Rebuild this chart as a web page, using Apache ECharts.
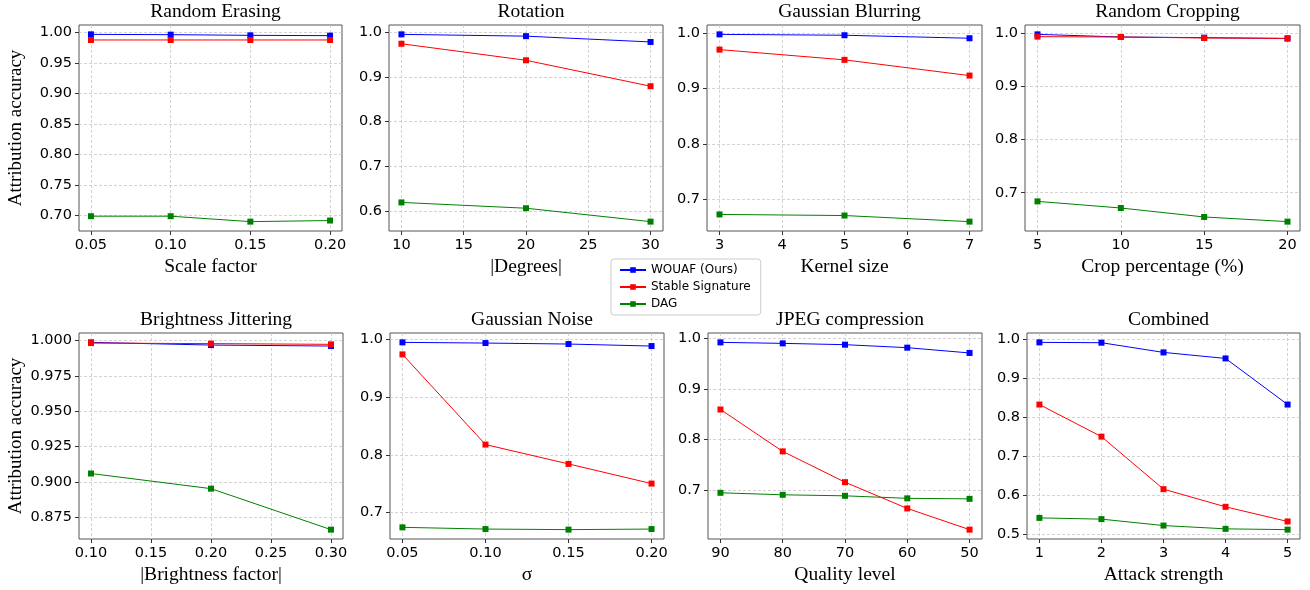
<!DOCTYPE html>
<html>
<head>
<meta charset="utf-8">
<script src="https://cdn.jsdelivr.net/npm/echarts@6/dist/echarts.min.js"></script>
<style>
  html, body { margin: 0; padding: 0; background: #fff; }
  #chart { width: 1310px; height: 590px; }
</style>
</head>
<body>
<div id="chart"></div>
<script>
const seriesNames = ['WOUAF (Ours)', 'Stable Signature', 'DAG'];
const seriesColors = ['#0000ff', '#ff0000', '#008000'];

// Random Erasing
const erasingX = [0.05, 0.10, 0.15, 0.20];
const erasingWouaf = [0.9967, 0.9962, 0.9951, 0.9946];
const erasingStable = [0.9875, 0.9875, 0.9875, 0.9875];
const erasingDag = [0.6989, 0.6989, 0.6900, 0.6918];
const erasingXTicks = [0.05, 0.10, 0.15, 0.20];
const erasingYTicks = [0.70, 0.75, 0.80, 0.85, 0.90, 0.95, 1.00];

// Rotation
const rotationX = [10, 20, 30];
const rotationWouaf = [0.995, 0.991, 0.978];
const rotationStable = [0.974, 0.937, 0.879];
const rotationDag = [0.619, 0.606, 0.576];
const rotationXTicks = [10, 15, 20, 25, 30];
const rotationYTicks = [0.6, 0.7, 0.8, 0.9, 1.0];

// Gaussian Blurring
const blurX = [3, 5, 7];
const blurWouaf = [0.998, 0.9964, 0.991];
const blurStable = [0.9705, 0.952, 0.9236];
const blurDag = [0.673, 0.671, 0.660];
const blurXTicks = [3, 4, 5, 6, 7];
const blurYTicks = [0.7, 0.8, 0.9, 1.0];

// Random Cropping
const cropX = [5, 10, 15, 20];
const cropWouaf = [0.9987, 0.9937, 0.9925, 0.991];
const cropStable = [0.9944, 0.9937, 0.9919, 0.991];
const cropDag = [0.6837, 0.6712, 0.6543, 0.6455];
const cropXTicks = [5, 10, 15, 20];
const cropYTicks = [0.7, 0.8, 0.9, 1.0];

// Brightness Jittering
const brightX = [0.10, 0.20, 0.30];
const brightWouaf = [0.9988, 0.9969, 0.9962];
const brightStable = [0.9983, 0.9979, 0.9974];
const brightDag = [0.906, 0.8953, 0.8663];
const brightXTicks = [0.10, 0.15, 0.20, 0.25, 0.30];
const brightYTicks = [0.875, 0.900, 0.925, 0.950, 0.975, 1.000];

// Gaussian Noise
const noiseX = [0.05, 0.10, 0.15, 0.20];
const noiseWouaf = [0.9954, 0.9942, 0.9925, 0.989];
const noiseStable = [0.9745, 0.8178, 0.7842, 0.750];
const noiseDag = [0.674, 0.671, 0.670, 0.671];
const noiseXTicks = [0.05, 0.10, 0.15, 0.20];
const noiseYTicks = [0.7, 0.8, 0.9, 1.0];

// JPEG compression
const jpegX = [90, 80, 70, 60, 50];
const jpegWouaf = [0.992, 0.990, 0.9874, 0.9815, 0.971];
const jpegStable = [0.859, 0.776, 0.715, 0.663, 0.621];
const jpegDag = [0.694, 0.690, 0.688, 0.683, 0.682];
const jpegXTicks = [90, 80, 70, 60, 50];
const jpegYTicks = [0.7, 0.8, 0.9, 1.0];

// Combined
const combinedX = [1, 2, 3, 4, 5];
const combinedWouaf = [0.9923, 0.9914, 0.9665, 0.951, 0.8325];
const combinedStable = [0.8325, 0.750, 0.615, 0.5696, 0.532];
const combinedDag = [0.5412, 0.538, 0.5215, 0.513, 0.511];
const combinedXTicks = [1, 2, 3, 4, 5];
const combinedYTicks = [0.5, 0.6, 0.7, 0.8, 0.9, 1.0];

const panels = [
  {title: 'Random Erasing', xName: 'Scale factor', x: erasingX, ys: [erasingWouaf, erasingStable, erasingDag],
   xTicks: erasingXTicks, yTicks: erasingYTicks, xDec: 2, yDec: 2, box: [79, 25, 263, 206]},
  {title: 'Rotation', xName: '|Degrees|', x: rotationX, ys: [rotationWouaf, rotationStable, rotationDag],
   xTicks: rotationXTicks, yTicks: rotationYTicks, xDec: 0, yDec: 1, box: [389, 25, 274, 206]},
  {title: 'Gaussian Blurring', xName: 'Kernel size', x: blurX, ys: [blurWouaf, blurStable, blurDag],
   xTicks: blurXTicks, yTicks: blurYTicks, xDec: 0, yDec: 1, box: [707, 25, 275, 206]},
  {title: 'Random Cropping', xName: 'Crop percentage (%)', x: cropX, ys: [cropWouaf, cropStable, cropDag],
   xTicks: cropXTicks, yTicks: cropYTicks, xDec: 0, yDec: 1, box: [1025, 25, 275, 206]},
  {title: 'Brightness Jittering', xName: '|Brightness factor|', x: brightX, ys: [brightWouaf, brightStable, brightDag],
   xTicks: brightXTicks, yTicks: brightYTicks, xDec: 2, yDec: 3, box: [79, 333, 264, 206]},
  {title: 'Gaussian Noise', xName: 'σ', x: noiseX, ys: [noiseWouaf, noiseStable, noiseDag],
   xTicks: noiseXTicks, yTicks: noiseYTicks, xDec: 2, yDec: 1, box: [390, 333, 274, 206]},
  {title: 'JPEG compression', xName: 'Quality level', x: jpegX, ys: [jpegWouaf, jpegStable, jpegDag],
   xTicks: jpegXTicks, yTicks: jpegYTicks, xDec: 0, yDec: 1, box: [708, 333, 274, 206], inverse: true},
  {title: 'Combined', xName: 'Attack strength', x: combinedX, ys: [combinedWouaf, combinedStable, combinedDag],
   xTicks: combinedXTicks, yTicks: combinedYTicks, xDec: 0, yDec: 1, box: [1027, 333, 273, 206]},
];

const serif = 'Liberation Serif';
const sans = 'DejaVu Sans';

// matplotlib-like 5% margins around the data
const padRange = (vals) => {
  const lo = Math.min(...vals), hi = Math.max(...vals);
  const m = (hi - lo) * 0.05;
  return [lo - m, hi + m];
};

const grid = [], xAxis = [], yAxis = [], series = [], title = [];
const gridStyle = {show: true, lineStyle: {color: '#c8c8c8', width: 0.8, type: [3, 2]}};

panels.forEach((p, i) => {
  const [left, top, width, height] = p.box;
  grid.push({left, top, width, height, show: true, borderColor: '#555', borderWidth: 1, backgroundColor: 'transparent'});
  title.push({
    text: p.title, left: left + width / 2, top: top - 28.5, textAlign: 'center',
    textStyle: {fontFamily: serif, fontSize: 19.5, fontWeight: 'normal', color: '#000'},
  });
  const xr = padRange(p.x);
  const yr = padRange([].concat(...p.ys));
  xAxis.push({
    type: 'value', gridIndex: i, min: xr[0], max: xr[1], inverse: !!p.inverse,
    name: p.xName, nameLocation: 'middle', nameGap: 26,
    nameTextStyle: {fontFamily: serif, fontSize: 19.5, color: '#000'},
    axisLine: {show: false},
    axisTick: {show: true, length: 4, lineStyle: {color: '#333'}, customValues: p.xTicks},
    axisLabel: {fontFamily: sans, fontSize: 14.5, color: '#000', margin: 7, customValues: p.xTicks,
      formatter: v => v.toFixed(p.xDec)},
    splitLine: gridStyle,
  });
  yAxis.push({
    type: 'value', gridIndex: i, min: yr[0], max: yr[1],
    name: i % 4 === 0 ? 'Attribution accuracy' : '', nameLocation: 'middle', nameGap: 53,
    nameTextStyle: {fontFamily: serif, fontSize: 19, color: '#000'},
    axisLine: {show: false},
    axisTick: {show: true, length: 4, lineStyle: {color: '#333'}, customValues: p.yTicks},
    axisLabel: {fontFamily: sans, fontSize: 14.5, color: '#000', margin: 7, customValues: p.yTicks,
      formatter: v => v.toFixed(p.yDec)},
    splitLine: gridStyle,
  });
  p.ys.forEach((vals, k) => {
    series.push({
      type: 'line', name: seriesNames[k], xAxisIndex: i, yAxisIndex: i,
      data: p.x.map((x, j) => [x, vals[j]]),
      symbol: 'rect', symbolSize: 6, showSymbol: true,
      lineStyle: {color: seriesColors[k], width: 1},
      itemStyle: {color: seriesColors[k]},
      animation: false,
    });
  });
});

const chart = echarts.init(document.getElementById('chart'), null, {renderer: 'canvas'});
chart.setOption({
  animation: false,
  title,
  grid,
  xAxis,
  yAxis,
  series,
  legend: {
    data: seriesNames, orient: 'vertical', left: 611, top: 259,
    itemWidth: 26, itemHeight: 7, itemGap: 5,
    padding: [5, 10, 5, 8],
    borderColor: '#ccc', borderWidth: 1, borderRadius: 3, backgroundColor: '#fff',
    textStyle: {fontFamily: sans, fontSize: 12, color: '#000'},
  },
});
</script>
</body>
</html>
